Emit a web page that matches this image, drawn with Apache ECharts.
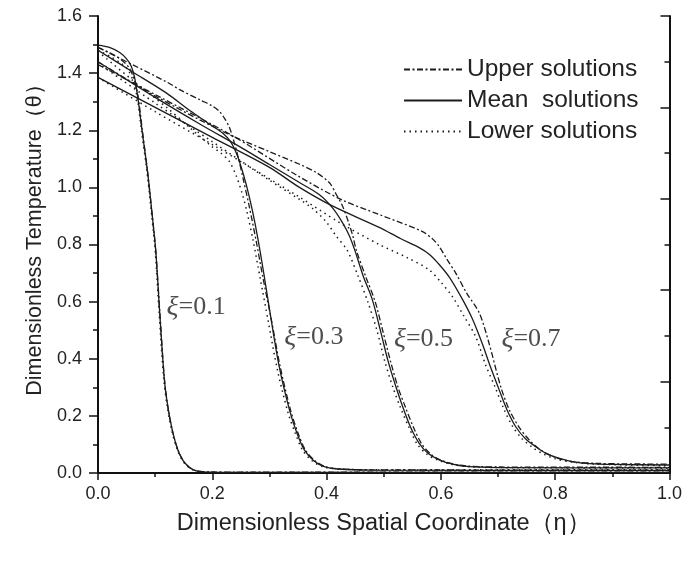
<!DOCTYPE html>
<html style="height: 100%">
<head>
    <meta charset="utf-8">
</head>
<body style="height: 100%; margin: 0; background: #fff">
    <div id="container" style="width: 685px; height: 565px"></div>
    <script src="https://cdn.jsdelivr.net/npm/echarts@6/dist/echarts.min.js"></script>
    <script type="text/javascript">
        // [eta, theta] pairs
        var xi1Upper = [[0, 1.49], [0.02, 1.472], [0.04, 1.448], [0.054, 1.42], [0.063, 1.38], [0.07, 1.32], [0.077, 1.21], [0.087, 1.05], [0.095, 0.9], [0.101, 0.78], [0.108, 0.57], [0.116, 0.335], [0.122, 0.235], [0.13, 0.15], [0.14, 0.08], [0.152, 0.035], [0.168, 0.01], [0.19, 0.004], [0.26, 0.003], [1, 0.003]];
        var xi1Mean = [[0, 1.498], [0.02, 1.49], [0.038, 1.472], [0.05, 1.45], [0.058, 1.425], [0.064, 1.385], [0.07, 1.31], [0.077, 1.2], [0.087, 1.05], [0.095, 0.9], [0.101, 0.78], [0.108, 0.56], [0.116, 0.33], [0.122, 0.235], [0.13, 0.15], [0.14, 0.08], [0.152, 0.035], [0.168, 0.01], [0.19, 0.003], [0.26, 0.002], [1, 0.002]];
        var xi1Lower = [[0, 1.48], [0.02, 1.46], [0.04, 1.435], [0.053, 1.41], [0.062, 1.37], [0.069, 1.31], [0.076, 1.2], [0.086, 1.05], [0.094, 0.9], [0.1, 0.78], [0.107, 0.56], [0.115, 0.33], [0.121, 0.235], [0.129, 0.15], [0.139, 0.08], [0.151, 0.035], [0.167, 0.01], [0.19, 0.003], [0.26, 0.002], [1, 0.002]];

        var xi3Upper = [[0, 1.49], [0.06, 1.43], [0.122, 1.367], [0.143, 1.342], [0.18, 1.305], [0.2, 1.285], [0.213, 1.265], [0.222, 1.24], [0.23, 1.21], [0.238, 1.16], [0.246, 1.1], [0.254, 1.03], [0.265, 0.93], [0.277, 0.81], [0.288, 0.69], [0.304, 0.53], [0.319, 0.37], [0.337, 0.22], [0.35, 0.14], [0.363, 0.08], [0.38, 0.042], [0.398, 0.022], [0.42, 0.015], [0.48, 0.011], [1, 0.01]];
        var xi3Mean = [[0, 1.48], [0.06, 1.405], [0.12, 1.33], [0.16, 1.27], [0.2, 1.215], [0.218, 1.19], [0.232, 1.16], [0.242, 1.12], [0.25, 1.075], [0.26, 1.005], [0.27, 0.92], [0.28, 0.818], [0.29, 0.7], [0.302, 0.549], [0.317, 0.373], [0.335, 0.221], [0.348, 0.14], [0.361, 0.081], [0.378, 0.042], [0.396, 0.022], [0.42, 0.014], [0.48, 0.01], [1, 0.009]];
        var xi3Lower = [[0, 1.476], [0.058, 1.379], [0.12, 1.28], [0.16, 1.21], [0.198, 1.145], [0.215, 1.12], [0.23, 1.09], [0.242, 1.04], [0.252, 0.98], [0.26, 0.92], [0.271, 0.818], [0.284, 0.68], [0.298, 0.53], [0.314, 0.36], [0.332, 0.215], [0.345, 0.14], [0.358, 0.08], [0.375, 0.042], [0.394, 0.022], [0.42, 0.014], [0.48, 0.011], [1, 0.011]];

        var xi5Upper = [[0, 1.44], [0.1, 1.32], [0.218, 1.196], [0.3, 1.125], [0.3525, 1.081], [0.382, 1.052], [0.405, 1.016], [0.417, 0.975], [0.428, 0.934], [0.438, 0.88], [0.446, 0.829], [0.452, 0.78], [0.468, 0.69], [0.485, 0.6], [0.498, 0.5], [0.512, 0.39], [0.525, 0.3], [0.538, 0.23], [0.552, 0.16], [0.567, 0.1], [0.583, 0.065], [0.6, 0.045], [0.625, 0.03], [0.65, 0.024], [0.7, 0.021], [1, 0.02]];
        var xi5Mean = [[0, 1.44], [0.1, 1.315], [0.178, 1.222], [0.25, 1.14], [0.3, 1.08], [0.3525, 1.017], [0.387, 0.975], [0.41, 0.929], [0.428, 0.876], [0.44, 0.83], [0.449, 0.782], [0.464, 0.69], [0.48, 0.607], [0.494, 0.5], [0.507, 0.396], [0.52, 0.31], [0.533, 0.233], [0.547, 0.16], [0.562, 0.104], [0.578, 0.068], [0.597, 0.046], [0.62, 0.031], [0.649, 0.022], [0.7, 0.019], [1, 0.018]];
        var xi5Lower = [[0, 1.435], [0.1, 1.295], [0.2, 1.16], [0.3, 1.025], [0.3525, 0.958], [0.376, 0.925], [0.399, 0.88], [0.417, 0.829], [0.436, 0.78], [0.455, 0.69], [0.472, 0.6], [0.488, 0.5], [0.502, 0.39], [0.516, 0.3], [0.529, 0.23], [0.544, 0.16], [0.559, 0.1], [0.576, 0.065], [0.595, 0.045], [0.62, 0.03], [0.65, 0.022], [0.7, 0.019], [1, 0.017]];

        var xi7Upper = [[0, 1.43], [0.1, 1.325], [0.236, 1.18], [0.35, 1.04], [0.428, 0.955], [0.492, 0.905], [0.567, 0.846], [0.585, 0.82], [0.597, 0.793], [0.61, 0.75], [0.626, 0.7], [0.645, 0.63], [0.667, 0.561], [0.684, 0.456], [0.705, 0.3], [0.72, 0.22], [0.737, 0.16], [0.755, 0.115], [0.775, 0.08], [0.8, 0.055], [0.83, 0.04], [0.87, 0.034], [0.92, 0.032], [1, 0.031]];
        var xi7Mean = [[0, 1.385], [0.1, 1.28], [0.2, 1.175], [0.3, 1.07], [0.3525, 1.0], [0.41, 0.935], [0.492, 0.86], [0.53, 0.82], [0.562, 0.789], [0.58, 0.765], [0.597, 0.73], [0.615, 0.685], [0.638, 0.607], [0.655, 0.54], [0.672, 0.455], [0.687, 0.37], [0.702, 0.291], [0.716, 0.22], [0.731, 0.162], [0.748, 0.12], [0.766, 0.092], [0.785, 0.068], [0.806, 0.052], [0.83, 0.04], [0.86, 0.033], [0.9, 0.03], [1, 0.028]];
        var xi7Lower = [[0, 1.385], [0.1, 1.265], [0.2, 1.15], [0.3525, 0.966], [0.42, 0.88], [0.492, 0.8], [0.54, 0.755], [0.579, 0.712], [0.6, 0.668], [0.62, 0.618], [0.64, 0.55], [0.661, 0.477], [0.678, 0.38], [0.695, 0.3], [0.71, 0.225], [0.725, 0.165], [0.742, 0.12], [0.76, 0.09], [0.78, 0.066], [0.8, 0.05], [0.83, 0.038], [0.87, 0.031], [1, 0.025]];

        // curve annotations: [eta, theta, text]
        var xiLabels = [[0.119, 0.58, '0.1'], [0.325, 0.474, '0.3'], [0.517, 0.467, '0.5'], [0.705, 0.467, '0.7']];

        var upperStyle = { color: '#1c1c1c', width: 1.3, type: [6, 2.5, 2, 2.5] };
        var meanStyle = { color: '#1c1c1c', width: 1.3, type: 'solid' };
        var lowerStyle = { color: '#1c1c1c', width: 1.5, type: [1.5, 4] };

        function curve(name, data, style) {
            return {
                name: name,
                type: 'line',
                data: data,
                smooth: 0.3,
                symbol: 'none',
                lineStyle: style,
                itemStyle: { color: '#1c1c1c' },
                z: 3
            };
        }

        var dom = document.getElementById("container");
        var myChart = echarts.init(dom);
        var font = '"Liberation Sans", Arial, sans-serif';

        var option = {
            animation: false,
            backgroundColor: '#fff',
            grid: { left: 98, right: 14, top: 16, bottom: 92 },
            legend: {
                data: ['Upper solutions', 'Mean  solutions', 'Lower solutions'],
                orient: 'vertical',
                left: 398,
                top: 52,
                itemWidth: 58,
                itemHeight: 14,
                itemGap: 6,
                itemStyle: { opacity: 0 },
                textStyle: { fontSize: 24.5, color: '#222', fontFamily: font }
            },
            xAxis: {
                type: 'value',
                min: 0,
                max: 1,
                interval: 0.2,
                name: 'Dimensionless Spatial Coordinate（η）',
                nameLocation: 'middle',
                nameGap: 39,
                nameTextStyle: { fontSize: 23.5, color: '#222', fontFamily: font },
                axisLine: { lineStyle: { color: '#111', width: 2 } },
                axisTick: { length: 7, lineStyle: { color: '#111', width: 1.5 } },
                minorTick: { show: true, splitNumber: 2, length: 4, lineStyle: { color: '#111', width: 1.5 } },
                splitLine: { show: false },
                axisLabel: { fontSize: 18, color: '#222', fontFamily: font, margin: 12, formatter: v => v.toFixed(1) }
            },
            yAxis: [{
                type: 'value',
                min: 0,
                max: 1.6,
                interval: 0.2,
                name: 'Dimensionless Temperature（θ）',
                nameLocation: 'middle',
                nameRotate: 90,
                nameGap: 52,
                nameTextStyle: { fontSize: 21.5, color: '#222', fontFamily: font, padding: [0, 0, 0, 20] },
                axisLine: { show: true, lineStyle: { color: '#111', width: 2 } },
                axisTick: { length: 9, lineStyle: { color: '#111', width: 1.5 } },
                minorTick: { show: true, splitNumber: 2, length: 5, lineStyle: { color: '#111', width: 1.5 } },
                splitLine: { show: false },
                axisLabel: { fontSize: 18, color: '#222', fontFamily: font, margin: 16, formatter: v => v.toFixed(1) }
            }, {
                type: 'value',
                position: 'right',
                min: 0,
                max: 1,
                interval: 0.2,
                axisLine: { show: true, lineStyle: { color: '#111', width: 2 } },
                axisTick: { inside: true, length: 9, lineStyle: { color: '#111', width: 1.5 } },
                minorTick: { show: true, splitNumber: 2, length: 5, lineStyle: { color: '#111', width: 1.5 } },
                splitLine: { show: false },
                axisLabel: { show: false }
            }],
            series: [
                curve('Upper solutions', xi1Upper, upperStyle),
                curve('Upper solutions', xi3Upper, upperStyle),
                curve('Upper solutions', xi5Upper, upperStyle),
                curve('Upper solutions', xi7Upper, upperStyle),
                curve('Mean  solutions', xi1Mean, meanStyle),
                curve('Mean  solutions', xi3Mean, meanStyle),
                curve('Mean  solutions', xi5Mean, meanStyle),
                curve('Mean  solutions', xi7Mean, meanStyle),
                curve('Lower solutions', xi1Lower, lowerStyle),
                curve('Lower solutions', xi3Lower, lowerStyle),
                curve('Lower solutions', xi5Lower, lowerStyle),
                curve('Lower solutions', xi7Lower, lowerStyle),
                {
                    name: 'xi',
                    type: 'scatter',
                    silent: true,
                    symbolSize: 1,
                    itemStyle: { color: 'rgba(0,0,0,0)' },
                    data: xiLabels,
                    label: {
                        show: true,
                        position: 'right',
                        distance: 0,
                        formatter: p => '{g|ξ}{n|=' + p.data[2] + '}',
                        rich: {
                            g: { fontSize: 28, fontStyle: 'italic', color: '#222', fontFamily: '"Liberation Serif", serif' },
                            n: { fontSize: 26, color: '#222', fontFamily: '"Liberation Serif", serif' }
                        }
                    }
                }
            ]
        };
        myChart.setOption(option);
    </script>
</body>
</html>
